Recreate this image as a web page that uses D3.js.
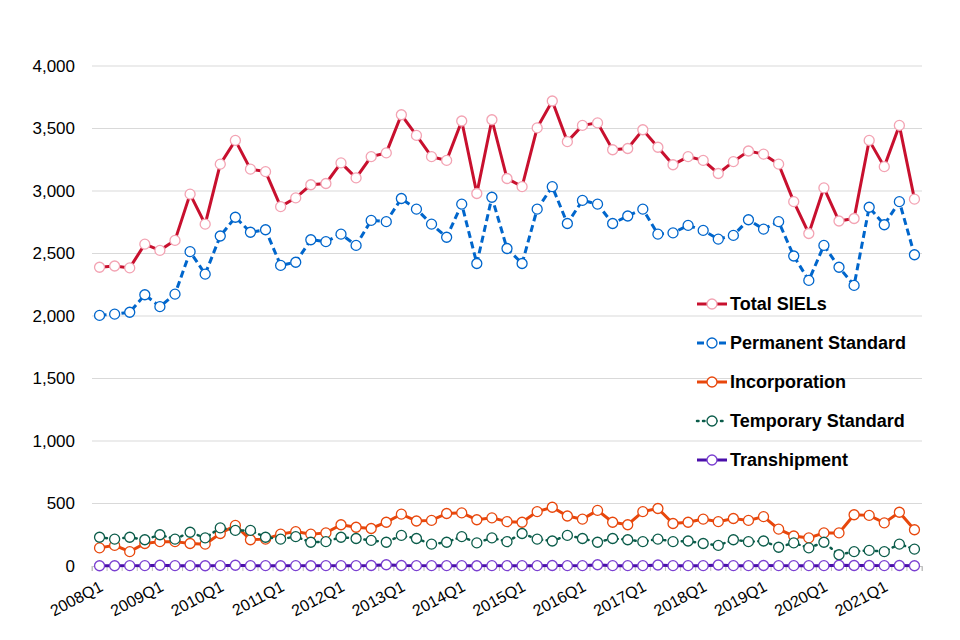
<!DOCTYPE html>
<html>
<head>
<meta charset="utf-8">
<script src="https://cdn.jsdelivr.net/npm/d3@7"></script>
<style>
  body { margin: 0; background: #fff; }
  svg { font-family: "Liberation Sans", Arial, sans-serif; }
</style>
</head>
<body>
<svg id="chart" width="960" height="640"></svg>
<script>
const quarters = [
  '2008Q1','2008Q2','2008Q3','2008Q4','2009Q1','2009Q2','2009Q3','2009Q4',
  '2010Q1','2010Q2','2010Q3','2010Q4','2011Q1','2011Q2','2011Q3','2011Q4',
  '2012Q1','2012Q2','2012Q3','2012Q4','2013Q1','2013Q2','2013Q3','2013Q4',
  '2014Q1','2014Q2','2014Q3','2014Q4','2015Q1','2015Q2','2015Q3','2015Q4',
  '2016Q1','2016Q2','2016Q3','2016Q4','2017Q1','2017Q2','2017Q3','2017Q4',
  '2018Q1','2018Q2','2018Q3','2018Q4','2019Q1','2019Q2','2019Q3','2019Q4',
  '2020Q1','2020Q2','2020Q3','2020Q4','2021Q1','2021Q2','2021Q3'
];

const totalSIELs = [2390,2400,2385,2575,2525,2605,2975,2735,3215,3405,3175,3155,2875,2945,3050,3060,3225,3105,3275,3305,3610,3445,3275,3245,3560,2980,3570,3100,3035,3505,3720,3395,3525,3545,3330,3340,3490,3350,3210,3275,3245,3140,3235,3320,3295,3215,2915,2660,3025,2760,2780,3405,3195,3525,2935];
const permanentStandard = [2005,2015,2030,2170,2075,2175,2515,2335,2640,2790,2670,2690,2405,2430,2610,2595,2655,2565,2765,2755,2940,2855,2735,2630,2895,2420,2950,2540,2420,2855,3035,2740,2925,2895,2740,2800,2855,2655,2665,2725,2685,2615,2645,2770,2695,2755,2480,2285,2565,2390,2245,2870,2730,2915,2490];
const incorporation = [145,165,115,180,195,195,180,175,260,325,210,215,255,275,255,265,330,310,300,350,415,360,365,420,425,370,385,355,350,435,470,400,375,445,350,330,435,460,340,350,375,355,380,365,395,295,240,225,265,265,410,405,345,430,290];
const temporaryStandard = [230,215,230,210,250,215,270,225,305,285,285,230,215,235,190,195,230,220,205,190,245,220,175,190,235,185,225,195,260,215,200,245,220,190,220,210,195,215,195,200,180,165,210,195,200,150,185,145,190,90,115,125,115,175,135];
const transhipment = [2,2,3,3,6,3,3,2,3,6,3,3,2,3,2,3,3,3,4,10,4,3,3,3,3,2,3,3,3,3,4,3,3,10,3,3,3,8,3,3,3,8,3,3,4,3,3,3,3,6,4,4,3,4,2];

const yTicks = [0, 500, 1000, 1500, 2000, 2500, 3000, 3500, 4000];

const series = [
  { name: 'Total SIELs', values: totalSIELs, color: '#C8102E', marker: '#F3A3B3', dash: null, width: 3 },
  { name: 'Permanent Standard', values: permanentStandard, color: '#0066CC', marker: '#0066CC', dash: '7,4', width: 3 },
  { name: 'Incorporation', values: incorporation, color: '#E8470C', marker: '#E8470C', dash: null, width: 3 },
  { name: 'Temporary Standard', values: temporaryStandard, color: '#0B5C4A', marker: '#0B5C4A', dash: '1.5,4.5', width: 2.5 },
  { name: 'Transhipment', values: transhipment, color: '#4A0FAA', marker: '#7A3FD0', dash: null, width: 3 }
];

const svg = d3.select('#chart');
const margin = { top: 66, right: 38, bottom: 74, left: 92 };
const width = 960, height = 640;

const x = d3.scaleBand()
  .domain(quarters)
  .range([margin.left, width - margin.right]);

const y = d3.scaleLinear()
  .domain([0, 4000])
  .range([height - margin.bottom, margin.top]);

const cx = q => x(q) + x.bandwidth() / 2;

// gridlines
svg.append('g')
  .selectAll('line')
  .data(yTicks.filter(d => d > 0))
  .join('line')
  .attr('x1', margin.left)
  .attr('x2', width - margin.right)
  .attr('y1', d => y(d))
  .attr('y2', d => y(d))
  .attr('stroke', '#d9d9d9')
  .attr('stroke-width', 1);

// y axis labels
svg.append('g')
  .selectAll('text')
  .data(yTicks)
  .join('text')
  .attr('x', 75)
  .attr('y', d => y(d))
  .attr('dy', '0.35em')
  .attr('text-anchor', 'end')
  .attr('font-size', 17)
  .attr('fill', '#000')
  .text(d3.format(','));

// x axis
const xAxisY = y(0);
const xAxis = d3.axisBottom(x).tickSize(5).tickFormat('');
const gx = svg.append('g')
  .attr('transform', `translate(0,${xAxisY})`)
  .call(xAxis);
gx.select('.domain').attr('stroke', '#bfbfbf');
// ticks sit on band boundaries
gx.selectAll('.tick').remove();
gx.selectAll('.bound')
  .data(quarters.concat(['end']))
  .join('line')
  .attr('class', 'bound')
  .attr('x1', (d, i) => margin.left + i * x.bandwidth())
  .attr('x2', (d, i) => margin.left + i * x.bandwidth())
  .attr('y1', 0)
  .attr('y2', 5)
  .attr('stroke', '#bfbfbf');

gx.selectAll('.lbl')
  .data(quarters.filter(q => q.endsWith('Q1')))
  .join('text')
  .attr('class', 'lbl')
  .attr('transform', d => `translate(${cx(d) + 2},${19}) rotate(-28)`)
  .attr('dy', '0.35em')
  .attr('text-anchor', 'end')
  .attr('font-size', 16)
  .attr('fill', '#000')
  .text(d => d);

// lines
const line = d3.line()
  .x((d, i) => cx(quarters[i]))
  .y(d => y(d));

series.forEach(s => {
  const g = svg.append('g');
  g.append('path')
    .datum(s.values)
    .attr('d', line)
    .attr('fill', 'none')
    .attr('stroke', s.color)
    .attr('stroke-width', s.width)
    .attr('stroke-dasharray', s.dash)
    .attr('stroke-linecap', s.dash && s.dash.startsWith('1.5') ? 'round' : 'butt');
  g.selectAll('circle')
    .data(s.values)
    .join('circle')
    .attr('cx', (d, i) => cx(quarters[i]))
    .attr('cy', d => y(d))
    .attr('r', 5)
    .attr('fill', '#fff')
    .attr('stroke', s.marker)
    .attr('stroke-width', 1.3);
});

// legend
const legend = svg.append('g').attr('transform', 'translate(697,304)');
const row = legend.selectAll('g')
  .data(series)
  .join('g')
  .attr('transform', (d, i) => `translate(0,${i * 39})`);
row.append('line')
  .attr('x1', 0).attr('x2', 30)
  .attr('stroke', d => d.color)
  .attr('stroke-width', d => d.width)
  .attr('stroke-dasharray', d => d.dash)
  .attr('stroke-linecap', d => d.dash && d.dash.startsWith('1.5') ? 'round' : 'butt');
row.append('circle')
  .attr('cx', 15).attr('r', 5)
  .attr('fill', '#fff')
  .attr('stroke', d => d.marker)
  .attr('stroke-width', 1.3);
row.append('text')
  .attr('x', 33)
  .attr('dy', '0.35em')
  .attr('font-size', 18)
  .attr('font-weight', 'bold')
  .attr('fill', '#000')
  .text(d => d.name);
</script>
</body>
</html>
